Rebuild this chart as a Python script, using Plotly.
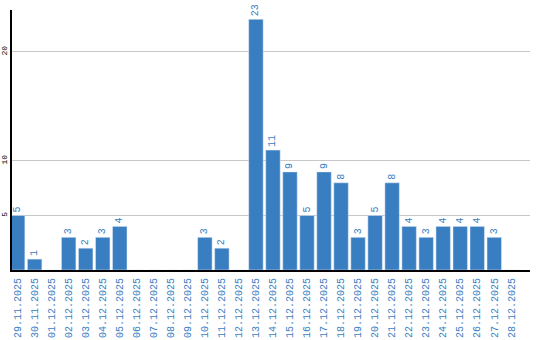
import plotly.graph_objects as go

dates = ["29.11.2025","30.11.2025","01.12.2025","02.12.2025","03.12.2025","04.12.2025",
         "05.12.2025","06.12.2025","07.12.2025","08.12.2025","09.12.2025","10.12.2025",
         "11.12.2025","12.12.2025","13.12.2025","14.12.2025","15.12.2025","16.12.2025",
         "17.12.2025","18.12.2025","19.12.2025","20.12.2025","21.12.2025","22.12.2025",
         "23.12.2025","24.12.2025","25.12.2025","26.12.2025","27.12.2025","28.12.2025"]
counts = [5,1,0,3,2,3,4,0,0,0,0,3,2,0,23,11,9,5,9,8,3,5,8,4,3,4,4,4,3,0]
y_ticks = [5, 10, 20]

BLUE = "#3a7ec2"
labels = [str(v) if v > 0 else "" for v in counts]

fig = go.Figure(go.Bar(
    x=list(range(len(dates))), y=counts, marker_color=BLUE, width=0.85,
    text=labels, textposition="outside", textangle=-90, cliponaxis=False,
    textfont=dict(family="Liberation Mono", size=10, color=BLUE),
))
fig.update_layout(
    width=540, height=340, margin=dict(l=12, r=10, t=10, b=70),
    paper_bgcolor="white", plot_bgcolor="white", showlegend=False,
    xaxis=dict(tickmode="array", tickvals=list(range(len(dates))), ticktext=dates,
               tickangle=-90, range=[-0.33, 30.1], showgrid=False, showline=True,
               linecolor="black", linewidth=2, ticks="", automargin=False,
               ticklabelstandoff=2,
               tickfont=dict(family="Liberation Mono", size=10, color=BLUE)),
    yaxis=dict(tickmode="array", tickvals=y_ticks, range=[0, 23.85], tickangle=-90,
               showgrid=True, gridcolor="#c8c8c8", gridwidth=1, showline=True,
               linecolor="black", linewidth=2, ticks="", zeroline=False,
               ticklabelstandoff=0, automargin=False,
               tickfont=dict(family="Liberation Mono", size=8, color="black")),
)
fig.write_html("out.html")
